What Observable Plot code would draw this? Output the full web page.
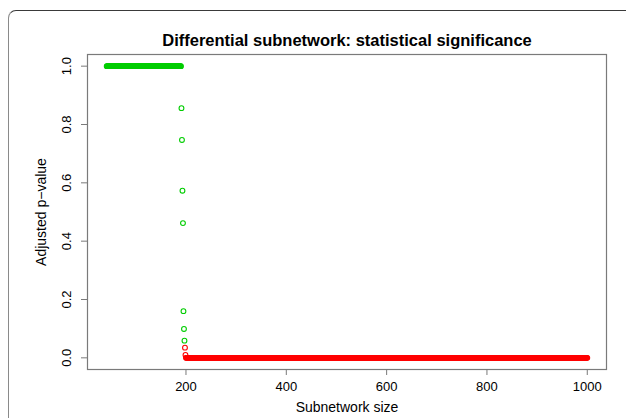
<!DOCTYPE html>
<html>
<head>
<meta charset="utf-8">
<script src="https://cdn.jsdelivr.net/npm/d3@7"></script>
<script src="https://cdn.jsdelivr.net/npm/@observablehq/plot@0.6"></script>
<style>
  html, body { margin: 0; padding: 0; background: #fff; overflow: hidden; }
  #wrap { position: relative; width: 626px; height: 418px; }
  #outer { position: absolute; left: 8px; top: 10px; width: 1200px; height: 1200px;
           border-top: 1.5px solid #3a3a3a; border-left: 1.2px solid #8a8a8a;
           border-top-left-radius: 8px; box-sizing: border-box; }
  #chart { position: absolute; left: 0; top: 0; }
</style>
</head>
<body>
<div id="wrap"><div id="outer"></div><div id="chart"></div></div>
<script>
// ---- data ----
const titleText = "Differential subnetwork: statistical significance";
const xLabel = "Subnetwork size";
const yLabel = "Adjusted p\u2212value";
const xTicks = [200, 400, 600, 800, 1000];
const yTicks = [0.0, 0.2, 0.4, 0.6, 0.8, 1.0];

// plateau at p = 1 (sizes 42..190), transition, then p = 0 (sizes 200..1000)
const plateauOneRange = [42, 190];
const plateauOneP = 1;
const transitionSizes = [191, 192, 193, 194, 195, 196, 197, 198, 199];
const transitionP     = [0.856, 0.747, 0.573, 0.462, 0.160, 0.099, 0.059, 0.035, 0.010];
const plateauZeroRange = [200, 1000];
const plateauZeroP = 0;
const significance = 0.05;
const colorNotSig = "#00CD00";
const colorSig = "#FF0000";

// ---- build table ----
const data = [];
for (const s of d3.range(plateauOneRange[0], plateauOneRange[1] + 1)) data.push({size: s, p: plateauOneP});
transitionSizes.forEach((s, i) => data.push({size: s, p: transitionP[i]}));
for (const s of d3.range(plateauZeroRange[0], plateauZeroRange[1] + 1)) data.push({size: s, p: plateauZeroP});

const xr = [plateauOneRange[0], plateauZeroRange[1]];
const xpad = 0.04 * (xr[1] - xr[0]);

const font = "Liberation Sans, Arial, Helvetica, sans-serif";

const chart = Plot.plot({
  width: 626,
  height: 418,
  marginLeft: 87,
  marginRight: 20,
  marginTop: 54,
  marginBottom: 49,
  style: {background: "transparent", fontFamily: font, color: "#000"},
  x: {domain: [xr[0] - xpad, xr[1] + xpad], axis: null},
  y: {domain: [-0.04, 1.04], axis: null},
  color: {type: "identity"},
  marks: [
    Plot.frame({stroke: "#7a7a7a", strokeWidth: 1.2}),
    Plot.axisX({ticks: xTicks, tickSize: 6, tickPadding: 6, fontSize: 13, label: null, stroke: "#7a7a7a", tickFormat: d => String(d)}),
    Plot.axisY({ticks: yTicks, tickSize: 6, tickFormat: () => "", label: null, stroke: "#7a7a7a"}),
    Plot.text(yTicks, {y: d => d, text: d => d3.format(".1f")(d), frameAnchor: "left", dx: -21, rotate: -90, textAnchor: "middle", fontSize: 13, fill: "#000"}),
    Plot.text([yLabel], {frameAnchor: "left", dx: -46, rotate: -90, textAnchor: "middle", fontSize: 14, fill: "#000"}),
    Plot.text([xLabel], {frameAnchor: "bottom", dy: 42, textAnchor: "middle", fontSize: 14, fill: "#000"}),
    Plot.text([titleText], {frameAnchor: "top", dy: -20, textAnchor: "middle", fontSize: 16.5, fontWeight: "bold", fill: "#000"}),
    Plot.dot(data, {x: "size", y: "p", r: 2.4, fill: "none", strokeWidth: 1.1,
                    stroke: d => d.p < significance ? colorSig : colorNotSig})
  ]
});
document.getElementById("chart").appendChild(chart);
</script>
</body>
</html>
